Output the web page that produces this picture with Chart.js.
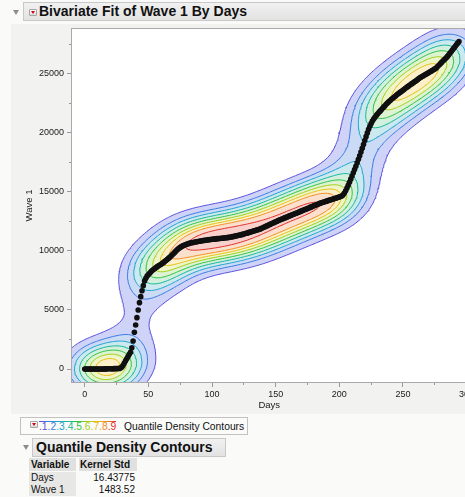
<!DOCTYPE html>
<html>
<head>
<meta charset="utf-8">
<title>Bivariate Fit of Wave 1 By Days</title>
<script src="https://cdn.jsdelivr.net/npm/chart.js@4.4.1/dist/chart.umd.min.js"></script>
<style>
  html, body { margin: 0; padding: 0; }
  body { position: relative; width: 465px; height: 497px; overflow: hidden; background: #fafaf9; font-family: "Liberation Sans", Arial, sans-serif; color: #111; }
  .panel { position: absolute; left: 11px; top: 24px; width: 460px; height: 390px; background: #f2f2f0; }
  #plotWrap { position: absolute; left: 0; top: 0; width: 480px; height: 416px; }
  .tri { position: absolute; width: 0; height: 0; border-left: 3px solid transparent; border-right: 3px solid transparent; border-top: 5px solid #8c8c8c; }
  .menu { position: absolute; box-sizing: border-box; width: 8px; height: 7px; border: 1px solid #a4a4a4; border-radius: 1px; background: linear-gradient(#ffffff, #dcdcdc); }
  .menu::after { content: ""; position: absolute; left: 1px; top: 1px; border-left: 2px solid transparent; border-right: 2px solid transparent; border-top: 3px solid #d0021b; }
  .outline { position: absolute; box-sizing: border-box; height: 19px; border: 1px solid #c8c8c8; background: linear-gradient(#f1f1f1, #e2e2e2); font-weight: bold; font-size: 14px; line-height: 17px; white-space: nowrap; }
  .legendBox { position: absolute; left: 20px; top: 417px; width: 228px; height: 18px; box-sizing: border-box; border: 1px solid #c2c2c2; background: #fbfbfa; font-size: 10.3px; line-height: 17px; white-space: nowrap; }
  .cell { position: absolute; box-sizing: border-box; height: 12px; font-size: 10px; line-height: 12px; white-space: nowrap; }
  .hd { background: #e0e0de; font-weight: bold; height: 13px; line-height: 13px; }
  .lab { background: #e7e7e5; padding-left: 2px; }
  .val { text-align: right; padding-right: 2px; }
</style>
</head>
<body>
<div class="panel"></div>
<div id="plotWrap"><canvas id="bivariate" width="480" height="416"></canvas></div>

<div class="tri" style="left:13px; top:10px;"></div>
<div class="outline" style="left:23px; top:2px; width:450px; padding-left:15px;">Bivariate Fit of Wave 1 By Days</div>
<div class="menu" style="left:29px; top:9px;"></div>

<div class="legendBox">
  <div class="menu" style="left:9px; top:3px;"></div>
  <div id="rainbow" style="position:absolute; left:18px; top:3px; width:77px; height:1px;"></div>
  <span id="levelDigits" style="position:absolute; left:18px; top:0;"></span>
  <span style="position:absolute; left:103px; top:0;">Quantile Density Contours</span>
</div>

<div class="tri" style="left:23px; top:445px;"></div>
<div class="outline" style="left:32px; top:438px; width:194px; padding-left:3px;">Quantile Density Contours</div>

<div class="cell hd" style="left:29px; top:458px; width:47px; padding-left:2px;">Variable</div>
<div class="cell hd" style="left:79px; top:458px; width:58px; padding-left:1px;">Kernel Std</div>
<div class="cell lab" style="left:29px; top:472px; width:47px;">Days</div>
<div class="cell val" id="stdDays" style="left:79px; top:472px; width:58px;"></div>
<div class="cell lab" style="left:29px; top:484px; width:47px;">Wave 1</div>
<div class="cell val" id="stdWave" style="left:79px; top:484px; width:58px;"></div>

<script>
const days = [
  0,1,2,3,4,5,6,7,8,9,10,11,12,13,14,15,16,17,18,19,
  20,21,22,23,24,25,26,27,28,29,30,31,32,33,34,35,36,37,38,39,
  40,41,42,43,44,45,46,47,48,49,50,51,52,53,54,55,56,57,58,59,
  60,61,62,63,64,65,66,67,68,69,70,71,72,73,74,75,76,77,78,79,
  80,81,82,83,84,85,86,87,88,89,90,91,92,93,94,95,96,97,98,99,
  100,101,102,103,104,105,106,107,108,109,110,111,112,113,114,115,116,117,118,119,
  120,121,122,123,124,125,126,127,128,129,130,131,132,133,134,135,136,137,138,139,
  140,141,142,143,144,145,146,147,148,149,150,151,152,153,154,155,156,157,158,159,
  160,161,162,163,164,165,166,167,168,169,170,171,172,173,174,175,176,177,178,179,
  180,181,182,183,184,185,186,187,188,189,190,191,192,193,194,195,196,197,198,199,
  200,201,202,203,204,205,206,207,208,209,210,211,212,213,214,215,216,217,218,219,
  220,221,222,223,224,225,226,227,228,229,230,231,232,233,234,235,236,237,238,239,
  240,241,242,243,244,245,246,247,248,249,250,251,252,253,254,255,256,257,258,259,
  260,261,262,263,264,265,266,267,268,269,270,271,272,273,274,275,276,277,278,279,
  280,281,282,283,284,285,286,287,288,289,290,291,292,293,294
];
const wave1 = [
  0,0,0,0,0,0,0,0,1,1,2,2,3,4,5,7,9,11,13,16,19,22,26,30,34,39,44,50,58,
  150,300,480,670,860,1050,1240,1420,1800,2370,3110,3730,4350,5000,5620,6130,6630,7060,7460,7690,7880,8000,8110,8230,
  8340,8430,8510,8590,8670,8740,8810,8880,8950,9030,9120,9210,9300,9390,9490,9590,9700,9810,9920,10030,10130,10220,10300,10370,10430,10480,10530,10570,
  10610,10640,10670,10700,10720,10740,10760,10780,10800,10820,10840,10860,10880,10900,10910,10930,10940,10960,10970,10990,
  11000,11010,11020,11040,11050,11060,11070,11080,11090,11110,11120,11130,11150,11160,
  11180,11210,11230,11260,11280,11300,11330,11350,11380,11400,
  11430,11470,11500,11530,11570,11600,11630,11670,11700,11730,11770,11800,11830,11870,
  11920,11970,12020,12070,12120,12170,12220,12270,12320,12370,12420,12470,12520,12570,12620,
  12660,12710,12750,12800,12840,12880,12930,12970,13020,13060,13110,13150,13190,13240,13280,13330,
  13370,13420,13460,13510,13550,13600,13640,13690,13730,13780,13820,13870,13910,13960,14000,14050,
  14080,14120,14150,14190,14220,14260,14290,14330,14360,14400,14430,14470,14500,14540,14570,14610,14650,
  14750,14900,15100,15330,15570,15820,16080,16350,16620,16900,17180,17470,17770,18070,18380,18700,19020,19350,19680,20000,20300,20560,20800,21000,
  21180,21330,21470,21600,21720,21840,21960,22080,22200,22320,22440,22550,22650,22750,22840,22930,23020,23110,23200,23290,23370,23450,23530,23610,
  23700,23780,23860,23940,24020,24100,24170,24250,24330,24400,24480,24560,24640,
  24710,24770,24830,24900,24960,25030,25090,25160,25220,25290,25350,25420,25480,
  25600,25710,25820,25930,26040,26150,26260,26370,26480,
  26620,26760,26900,27040,27180,27320,27460,27600,27740
];

// Kernel standard deviations from the report table
const kernelStdDays = 16.43775;
const kernelStdWave = 1483.52;

// Contour quantiles and their colours
const quantiles = [0.1, 0.2, 0.3, 0.4, 0.5, 0.6, 0.7, 0.8, 0.9];
const quantileLabels = ['.1', '.2', '.3', '.4', '.5', '.6', '.7', '.8', '.9'];
const lineColors = ['#5a52dc', '#3b7be4', '#22a4d0', '#19b896', '#33c244', '#a3d01a', '#eac114', '#f48d22', '#e3302a'];
const fillColors = [
  [207, 211, 248], [203, 219, 246], [204, 233, 240], [211, 240, 222], [222, 243, 210],
  [237, 245, 201], [252, 240, 203], [252, 224, 206], [248, 209, 205]
];

// Axes: ranges, tick positions, labelled ticks
const xRange = [-10, 300];
const yRange = [-1100, 28800];
const xTicks = [0, 25, 50, 75, 100, 125, 150, 175, 200, 225, 250, 275, 300];
const xLabels = [0, 50, 100, 150, 200, 250, 300];
const yTicks = [0, 2500, 5000, 7500, 10000, 12500, 15000, 17500, 20000, 22500, 25000, 27500];
const yLabels = [0, 5000, 10000, 15000, 20000, 25000];

document.getElementById('stdDays').textContent = kernelStdDays.toFixed(5);
document.getElementById('stdWave').textContent = kernelStdWave.toFixed(2);
document.getElementById('levelDigits').innerHTML = quantileLabels
  .map((t, i) => `<span style="color:${lineColors[i]}">${t}</span>`).join('');
document.getElementById('rainbow').style.background = `linear-gradient(to right, ${lineColors.join(',')})`;

// Kernel density on a grid that reaches well past the data
const NX = 240, NY = 240;
const gx0 = -70, gx1 = 360, gy0 = -7000, gy1 = 35000;
const dgx = (gx1 - gx0) / (NX - 1), dgy = (gy1 - gy0) / (NY - 1);
const gx = [], gy = [];
for (let i = 0; i < NX; i++) gx.push(gx0 + i * dgx);
for (let j = 0; j < NY; j++) gy.push(gy0 + j * dgy);

const n = days.length;
const ex = new Float64Array(NX * n), ey = new Float64Array(NY * n);
for (let i = 0; i < NX; i++) {
  for (let k = 0; k < n; k++) {
    const u = (gx[i] - days[k]) / kernelStdDays;
    ex[i * n + k] = Math.exp(-0.5 * u * u);
  }
}
for (let j = 0; j < NY; j++) {
  for (let k = 0; k < n; k++) {
    const u = (gy[j] - wave1[k]) / kernelStdWave;
    ey[j * n + k] = Math.exp(-0.5 * u * u);
  }
}
const dens = new Float64Array(NX * NY);
for (let j = 0; j < NY; j++) {
  for (let i = 0; i < NX; i++) {
    let s = 0;
    const oi = i * n, oj = j * n;
    for (let k = 0; k < n; k++) s += ex[oi + k] * ey[oj + k];
    dens[j * NX + i] = s;
  }
}

// Quantile levels: q of the estimated mass lies below each level
const sorted = Array.from(dens).sort((a, b) => a - b);
const total = sorted.reduce((a, b) => a + b, 0);
const levels = quantiles.map(q => {
  let c = 0;
  for (const v of sorted) {
    c += v;
    if (c >= q * total) return v;
  }
  return sorted[sorted.length - 1];
});

// Marching squares, segments separated by gaps
function contourData(level) {
  const out = [];
  const lerp = (a, b, va, vb) => a + (b - a) * (level - va) / (vb - va);
  for (let j = 0; j < NY - 1; j++) {
    for (let i = 0; i < NX - 1; i++) {
      const v0 = dens[j * NX + i], v1 = dens[j * NX + i + 1];
      const v2 = dens[(j + 1) * NX + i + 1], v3 = dens[(j + 1) * NX + i];
      const b0 = v0 > level, b1 = v1 > level, b2 = v2 > level, b3 = v3 > level;
      if (b0 === b1 && b1 === b2 && b2 === b3) continue;
      const pts = [];
      if (b0 !== b1) pts.push({x: lerp(gx[i], gx[i + 1], v0, v1), y: gy[j]});
      if (b1 !== b2) pts.push({x: gx[i + 1], y: lerp(gy[j], gy[j + 1], v1, v2)});
      if (b2 !== b3) pts.push({x: lerp(gx[i + 1], gx[i], v2, v3), y: gy[j + 1]});
      if (b3 !== b0) pts.push({x: gx[i], y: lerp(gy[j + 1], gy[j], v3, v0)});
      if (pts.length === 2) {
        out.push(pts[0], pts[1], {x: null, y: null});
      } else if (pts.length === 4) {
        const centerHigh = (v0 + v1 + v2 + v3) / 4 > level;
        if (b1 !== centerHigh) {
          out.push(pts[0], pts[1], {x: null, y: null}, pts[2], pts[3], {x: null, y: null});
        } else {
          out.push(pts[1], pts[2], {x: null, y: null}, pts[3], pts[0], {x: null, y: null});
        }
      }
    }
  }
  return out;
}

function densityAt(vx, vy) {
  const fi = (vx - gx0) / dgx, fj = (vy - gy0) / dgy;
  const i = Math.floor(fi), j = Math.floor(fj);
  if (i < 0 || j < 0 || i >= NX - 1 || j >= NY - 1) return 0;
  const tx = fi - i, ty = fj - j;
  const a = dens[j * NX + i], b = dens[j * NX + i + 1];
  const c = dens[(j + 1) * NX + i], d = dens[(j + 1) * NX + i + 1];
  return (a * (1 - tx) + b * tx) * (1 - ty) + (c * (1 - tx) + d * tx) * ty;
}

// Shaded bands between contour levels
const densityFill = {
  id: 'densityFill',
  beforeDraw(chart) {
    const {ctx, chartArea: a} = chart;
    ctx.save();
    ctx.fillStyle = '#ffffff';
    ctx.fillRect(a.left, a.top, a.right - a.left, a.bottom - a.top);
    ctx.restore();
  },
  beforeDatasetsDraw(chart) {
    const {ctx, chartArea: a, scales} = chart;
    const w = Math.ceil(a.right - a.left), h = Math.ceil(a.bottom - a.top);
    const off = document.createElement('canvas');
    off.width = w; off.height = h;
    const octx = off.getContext('2d');
    const img = octx.createImageData(w, h);
    const xs = [], ys = [];
    for (let px = 0; px < w; px++) xs.push(scales.x.getValueForPixel(a.left + px + 0.5));
    for (let py = 0; py < h; py++) ys.push(scales.y.getValueForPixel(a.top + py + 0.5));
    for (let py = 0; py < h; py++) {
      for (let px = 0; px < w; px++) {
        const d = densityAt(xs[px], ys[py]);
        let band = 0;
        while (band < levels.length && d > levels[band]) band++;
        const p = (py * w + px) * 4;
        if (band === 0) { img.data[p + 3] = 0; continue; }
        const c = fillColors[band - 1];
        img.data[p] = c[0]; img.data[p + 1] = c[1]; img.data[p + 2] = c[2]; img.data[p + 3] = 255;
      }
    }
    octx.putImageData(img, 0, 0);
    ctx.drawImage(off, a.left, a.top);
  },
  afterDraw(chart) {
    const {ctx, chartArea: a} = chart;
    ctx.save();
    ctx.strokeStyle = '#a9a9a9';
    ctx.lineWidth = 1;
    ctx.strokeRect(Math.round(a.left) - 0.5, Math.round(a.top) - 0.5, Math.round(a.right - a.left) + 1, Math.round(a.bottom - a.top) + 1);
    ctx.restore();
  }
};

const datasets = [{
  type: 'scatter',
  label: 'Wave 1',
  data: days.map((d, i) => ({x: d, y: wave1[i]})),
  backgroundColor: '#101010',
  borderColor: '#101010',
  borderWidth: 0,
  pointRadius: 2.8
}];
levels.forEach((lv, i) => {
  datasets.push({
    type: 'line',
    label: quantileLabels[i],
    data: contourData(lv),
    borderColor: lineColors[i],
    borderWidth: 1,
    pointRadius: 0,
    spanGaps: false,
    fill: false
  });
});

Chart.defaults.font.family = '"Liberation Sans", Arial, sans-serif';
Chart.defaults.color = '#1a1a1a';

new Chart(document.getElementById('bivariate'), {
  type: 'scatter',
  data: {datasets: datasets},
  options: {
    responsive: false,
    animation: false,
    devicePixelRatio: 1,
    events: [],
    layout: {autoPadding: false, padding: {left: 10, top: 29, right: 13.4, bottom: 0}},
    plugins: {legend: {display: false}, tooltip: {enabled: false}},
    scales: {
      x: {
        type: 'linear',
        min: xRange[0],
        max: xRange[1],
        afterBuildTicks: s => { s.ticks = xTicks.map(v => ({value: v})); },
        afterFit: s => { s.height = 34; },
        border: {display: false},
        grid: {
          drawOnChartArea: false,
          tickLength: 5,
          tickColor: '#9a9a9a',
          tickBorderDash: c => (c.tick && !xLabels.includes(c.tick.value)) ? [3, 20] : []
        },
        ticks: {
          autoSkip: false,
          maxRotation: 0,
          minRotation: 0,
          padding: 2,
          font: {size: 9},
          callback: v => (xLabels.includes(v) ? String(v) : '')
        },
        title: {display: true, text: 'Days', font: {size: 9.5}, padding: {top: 0, bottom: 5.3}}
      },
      y: {
        type: 'linear',
        min: yRange[0],
        max: yRange[1],
        afterBuildTicks: s => { s.ticks = yTicks.map(v => ({value: v})); },
        afterFit: s => { s.width = 62; },
        border: {display: false},
        grid: {
          drawOnChartArea: false,
          tickLength: 5,
          tickColor: '#9a9a9a',
          tickBorderDash: c => (c.tick && !yLabels.includes(c.tick.value)) ? [0, 2, 3, 20] : []
        },
        ticks: {
          autoSkip: false,
          padding: 3,
          font: {size: 9},
          callback: v => (yLabels.includes(v) ? String(v) : '')
        },
        title: {display: true, text: 'Wave 1', font: {size: 9.5}, padding: {top: 13.3, bottom: 0}}
      }
    }
  },
  plugins: [densityFill]
});
</script>
</body>
</html>
